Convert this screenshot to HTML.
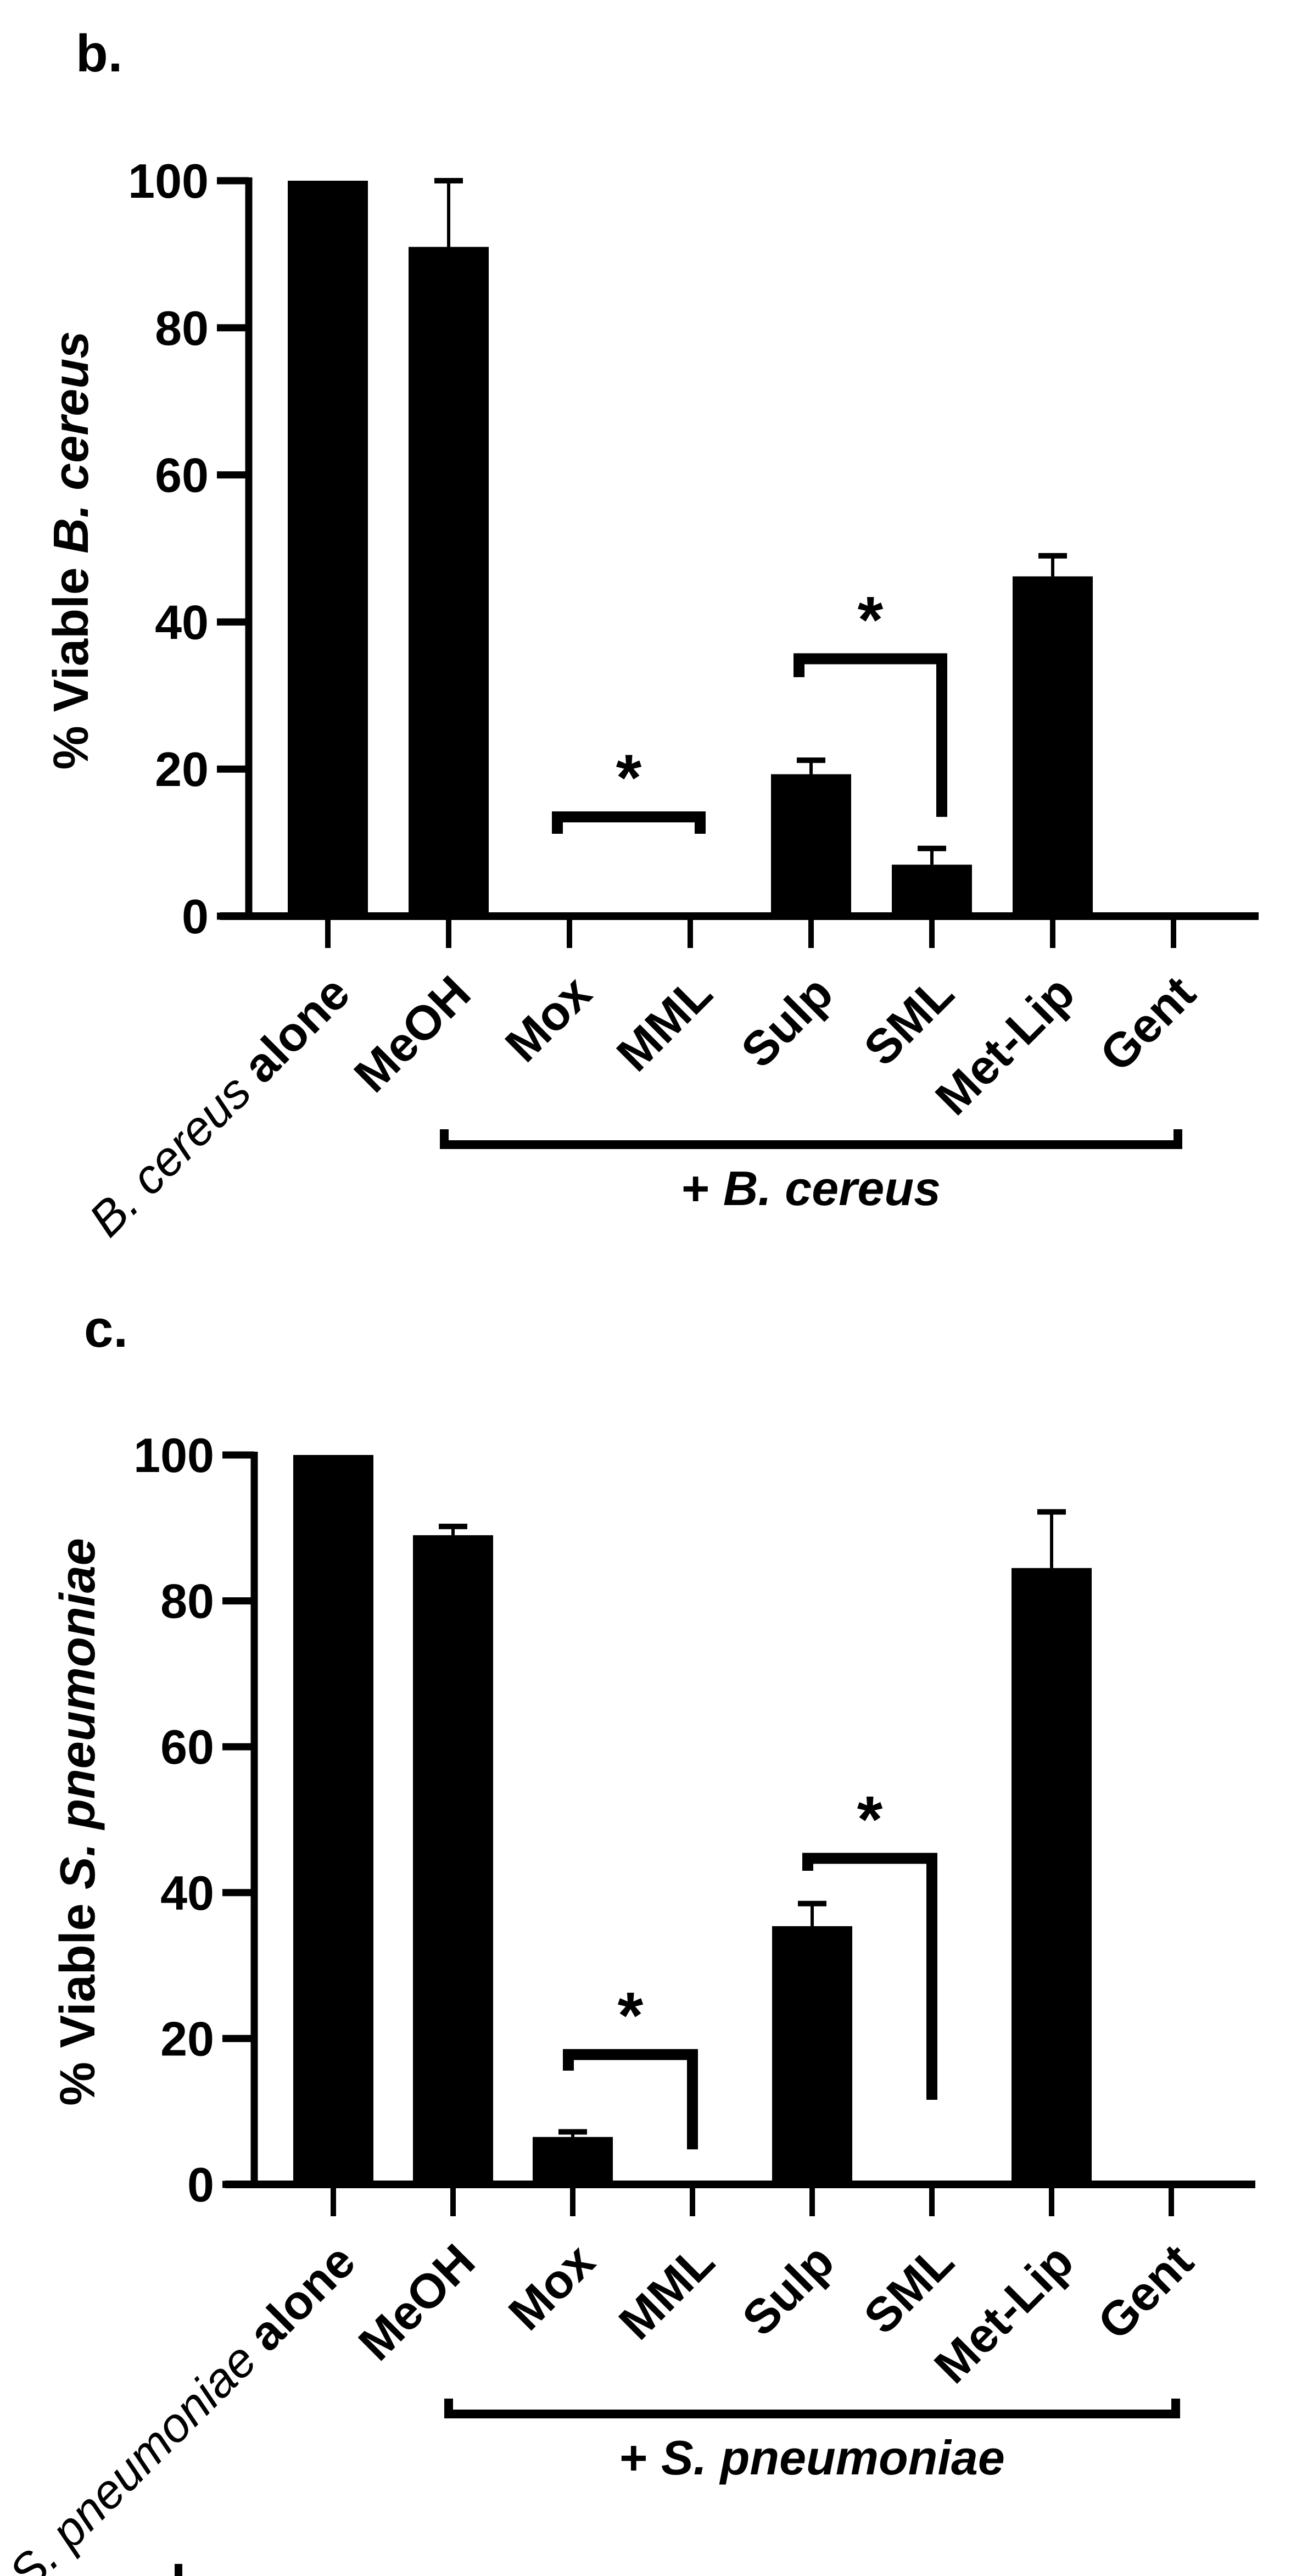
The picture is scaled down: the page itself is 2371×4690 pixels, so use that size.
<!DOCTYPE html>
<html><head><meta charset="utf-8"><style>
html,body{margin:0;padding:0;background:#fff;}
svg{display:block;font-family:"Liberation Sans",Arial,sans-serif;}
</style></head><body>
<svg id="fig" width="2371" height="4690" viewBox="0 0 2371 4690" xmlns="http://www.w3.org/2000/svg">
<rect x="0" y="0" width="2371" height="4690" fill="#fff"/>
<text x="138" y="130" font-size="96" font-weight="bold">b.</text>
<text x="153" y="2452" font-size="96" font-weight="bold">c.</text>
<rect x="318" y="4668" width="14" height="22" fill="#000"/>
</svg>
<script>
const categoriesB = ["alone","MeOH","Mox","MML","Sulp","SML","Met-Lip","Gent"];
const valuesB = [100, 91, 0, 0, 19.3, 7.0, 46.2, 0];
const errorsB = [null, 100, null, null, 21.2, 9.2, 49, null];
const ticksB = [0, 20, 40, 60, 80, 100];
const sigB = [[2, 3, 13.5, 11.2, 11.2], [4, 5, 35, 32.5, 13.5]];

const categoriesC = ["alone","MeOH","Mox","MML","Sulp","SML","Met-Lip","Gent"];
const valuesC = [100, 89, 6.5, 0, 35.4, 0, 84.5, 0];
const errorsC = [null, 90.2, 7.2, null, 38.5, null, 92.2, null];
const ticksC = [0, 20, 40, 60, 80, 100];
const sigC = [[2, 3, 17.8, 15.6, 4.8], [4, 5, 44.7, 43, 11.6]];

const NS = "http://www.w3.org/2000/svg";
const svg = document.getElementById("fig");
function mk(tag, attrs, parent) {
  const e = document.createElementNS(NS, tag);
  for (const k in attrs) e.setAttribute(k, attrs[k]);
  (parent || svg).appendChild(e);
  return e;
}

function drawChart(cfg, cats, vals, errs, ticks, sigs) {
  const g = mk("g", {});
  
  
  const yS = v => cfg.y0 - (v / 100) * (cfg.y0 - cfg.y100);
  const xS = i => cfg.x0 + i * cfg.step;
  const ya = mk("line", {x1: cfg.axX, y1: yS(100) - 6, x2: cfg.axX, y2: cfg.y0 + 6, stroke: "#000", "stroke-width": 13}, g);
  
  
  ticks.forEach(t => {
    const tl = mk("line", {x1: cfg.axX - 58, y1: yS(t), x2: cfg.axX, y2: yS(t), stroke: "#000", "stroke-width": 13}, g);
    
    
    const tx = mk("text", {x: cfg.axX - 73, y: yS(t) + 31, "font-size": 88, "font-weight": "bold", "text-anchor": "end"}, g);
    tx.textContent = t;
    
    
  });
  vals.forEach((v, i) => {
    if (v > 0) {
      const r = mk("rect", {x: xS(i) - 73, y: yS(v), width: 146, height: cfg.y0 - yS(v), fill: "#000"}, g);
      
      
    }
    const e = errs[i];
    if (e !== null && e !== undefined) {
      const eg = mk("g", {}, g);
      
      
      mk("line", {x1: xS(i), y1: yS(v), x2: xS(i), y2: yS(e), stroke: "#000", "stroke-width": 6}, eg);
      mk("line", {x1: xS(i) - 26, y1: yS(e), x2: xS(i) + 26, y2: yS(e), stroke: "#000", "stroke-width": 10}, eg);
    }
  });
  const xa = mk("line", {x1: cfg.axL, y1: cfg.y0, x2: cfg.axR, y2: cfg.y0, stroke: "#000", "stroke-width": 14}, g);
  
  
  cats.forEach((c, i) => {
    const tl = mk("line", {x1: xS(i), y1: cfg.y0, x2: xS(i), y2: cfg.y0 + 58, stroke: "#000", "stroke-width": 10}, g);
    
    
    const ax = xS(i) + 45, ay = cfg.y0 + 146;
    const tx = mk("text", {x: ax, y: ay, "font-size": 88, "font-weight": "bold", "text-anchor": "end", transform: "rotate(-45 " + ax + " " + ay + ")"}, g);
    if (i === 0) {
      const s1 = mk("tspan", {"font-style": "italic", "font-weight": "normal"}, tx);
      s1.textContent = cfg.species + " ";
      const s2 = mk("tspan", {}, tx);
      s2.textContent = "alone";
    } else {
      tx.textContent = c;
    }
    
    
  });
  sigs.forEach(s => {
    const xl = xS(s[0]) + cfg.sigL, xr = xS(s[1]) + cfg.sigR;
    const p = mk("path", {d: "M" + xl + " " + yS(s[3]) + " V" + yS(s[2]) + " H" + xr + " V" + yS(s[4]), fill: "none", stroke: "#000", "stroke-width": 20, "stroke-linejoin": "miter"}, g);
    
    
    const st = mk("text", {x: (xl + xr) / 2, y: yS(s[2]) - 30, "font-size": 120, "font-weight": "bold", "text-anchor": "middle"}, g);
    st.textContent = "*";
    
    
  });
  const gx1 = xS(1) - 8, gx2 = xS(7) + 8;
  const gb = mk("path", {d: "M" + gx1 + " " + (cfg.gY - 28) + " V" + cfg.gY + " H" + gx2 + " V" + (cfg.gY - 28), fill: "none", stroke: "#000", "stroke-width": 16}, g);
  
  
  const gl = mk("text", {x: (gx1 + gx2) / 2, y: cfg.gY + 110, "font-size": 88, "font-weight": "bold", "text-anchor": "middle"}, g);
  const p1 = mk("tspan", {}, gl); p1.textContent = "+ ";
  const p2 = mk("tspan", {"font-style": "italic"}, gl); p2.textContent = cfg.species;
  
  
  const yt = mk("text", {x: cfg.ytX, y: cfg.ytY, "font-size": 90, "font-weight": "bold", "text-anchor": "middle", transform: "rotate(-90 " + cfg.ytX + " " + cfg.ytY + ")"}, g);
  const q1 = mk("tspan", {}, yt); q1.textContent = "% Viable ";
  const q2 = mk("tspan", {"font-style": "italic"}, yt); q2.textContent = cfg.species;
  
  
}

drawChart({id: "b", species: "B. cereus", axX: 453, axL: 401, axR: 2292, y0: 1668, y100: 329, x0: 597, step: 220, sigL: -22, sigR: 18, gY: 2084, ytX: 160, ytY: 1002},
  categoriesB, valuesB, errorsB, ticksB, sigB);
drawChart({id: "c", species: "S. pneumoniae", axX: 463, axL: 410, axR: 2286, y0: 3977, y100: 2649, x0: 607, step: 218, sigL: -8, sigR: 0, gY: 4395, ytX: 172, ytY: 3317},
  categoriesC, valuesC, errorsC, ticksC, sigC);
</script>
</body></html>
